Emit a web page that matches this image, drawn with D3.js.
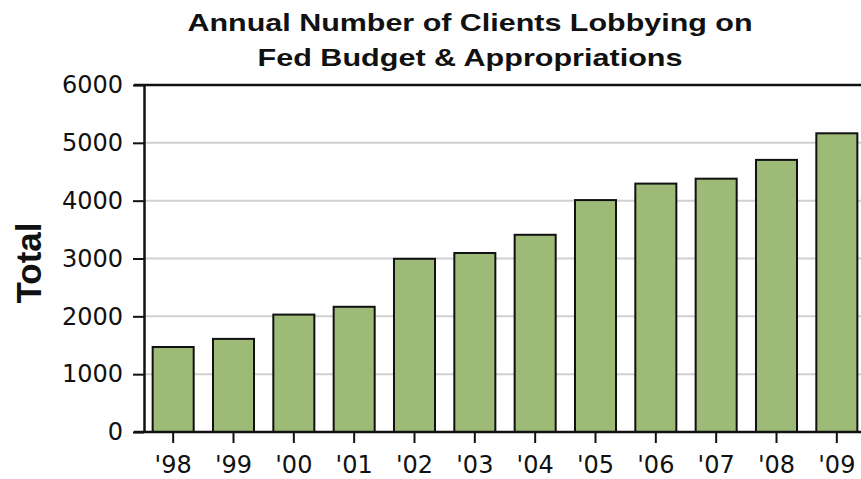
<!DOCTYPE html>
<html>
<head>
<meta charset="utf-8">
<script src="https://cdn.jsdelivr.net/npm/d3@7"></script>
<style>
  body { margin: 0; background: #fff; }
  svg { display: block; font-family: "Liberation Sans", Arial, sans-serif; }
</style>
</head>
<body>
<svg id="canvas" width="861" height="479"></svg>
<script>
// chart values
let years = ["'98", "'99", "'00", "'01", "'02", "'03", "'04", "'05", "'06", "'07", "'08", "'09"];
let totals = [1470, 1610, 2030, 2165, 2995, 3095, 3410, 4010, 4295, 4380, 4705, 5165];
let yTicks = [0, 1000, 2000, 3000, 4000, 5000, 6000];
let titleLines = ['Annual Number of Clients Lobbying on', 'Fed Budget & Appropriations'];

let svg = d3.select('#canvas');
let plotLeft = 144, plotTop = 85, plotBottom = 432;

let x = d3.scaleBand()
          .domain(years)
          .range([143, 867])
          .paddingInner(0.32)
          .paddingOuter(0.16);
let y = d3.scaleLinear()
          .domain([0, 6000])
          .range([plotBottom, plotTop]);

// gridlines
svg.selectAll('.grid')
   .data(yTicks.filter(d => d > 0 && d < 6000))
   .enter()
   .append('line')
   .attr('class', 'grid')
   .attr('x1', plotLeft)
   .attr('x2', 861)
   .attr('y1', d => y(d))
   .attr('y2', d => y(d))
   .attr('stroke', '#d0d0d0')
   .attr('stroke-width', 2);

// top frame line
svg.append('line')
   .attr('x1', plotLeft - 10)
   .attr('x2', 861)
   .attr('y1', y(6000))
   .attr('y2', y(6000))
   .attr('stroke', '#111')
   .attr('stroke-width', 2.5);

// bars
svg.selectAll('.bar')
   .data(totals)
   .enter()
   .append('rect')
   .attr('class', 'bar')
   .attr('x', (d, i) => x(years[i]))
   .attr('width', x.bandwidth())
   .attr('y', d => y(d))
   .attr('height', d => plotBottom - y(d))
   .attr('fill', '#9dba77')
   .attr('stroke', '#111')
   .attr('stroke-width', 2);

// y axis
let yAxis = svg.append('g')
   .attr('transform', 'translate(' + plotLeft + ',0)')
   .call(d3.axisLeft(y).tickValues(yTicks).tickFormat(d3.format('d'))
           .tickSize(11).tickPadding(10).tickSizeOuter(0));
yAxis.select('.domain').attr('stroke', '#111').attr('stroke-width', 2.5);
yAxis.selectAll('.tick line').attr('stroke', '#111').attr('stroke-width', 2);
yAxis.selectAll('text')
     .attr('fill', '#111')
     .style('font-family', '"DejaVu Sans", Verdana, sans-serif')
     .style('font-size', '24px');

// x axis
let xAxis = svg.append('g')
   .attr('transform', 'translate(0,' + plotBottom + ')')
   .call(d3.axisBottom(x).tickSize(11).tickPadding(13).tickSizeOuter(0));
xAxis.select('.domain').attr('stroke', '#111').attr('stroke-width', 2.5).attr('d', 'M' + (plotLeft - 10) + ',0H861');
xAxis.selectAll('.tick line').attr('stroke', '#111').attr('stroke-width', 2);
xAxis.selectAll('text')
     .attr('fill', '#111')
     .style('font-family', '"DejaVu Sans", Verdana, sans-serif')
     .style('font-size', '24px');

// y label
svg.append('text')
   .attr('transform', 'translate(41,263) rotate(-90)')
   .attr('text-anchor', 'middle')
   .style('font-size', '35px')
   .style('font-weight', 'bold')
   .attr('fill', '#111')
   .text('Total');

// title
let titleWidths = [565, 425];
svg.selectAll('.title')
   .data(titleLines)
   .enter()
   .append('text')
   .attr('class', 'title')
   .attr('x', 470)
   .attr('y', (d, i) => 31 + i * 35)
   .attr('text-anchor', 'middle')
   .attr('textLength', (d, i) => titleWidths[i])
   .attr('lengthAdjust', 'spacingAndGlyphs')
   .style('font-size', '24.5px')
   .style('font-weight', 'bold')
   .attr('fill', '#111')
   .text(d => d);
</script>
</body>
</html>
